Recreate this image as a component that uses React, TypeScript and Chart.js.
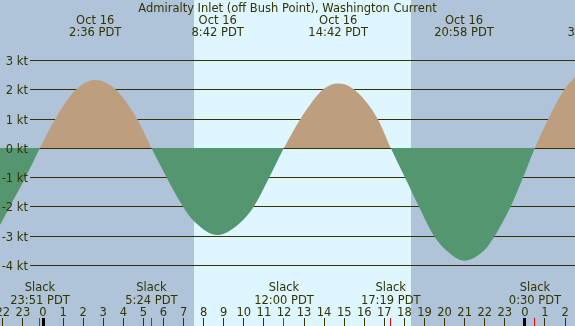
import React, { useEffect, useRef } from "react";
import { Chart, registerables } from "chart.js";

Chart.register(...registerables);

const TITLE = "Admiralty Inlet (off Bush Point), Washington Current";

// Current speed (kt), time in hours from Oct 16 00:00 PDT
const times = [
  -2.14, -1.65, -0.87, -0.15, 0.62, 1.66, 2.6, 3.6, 4.68, 5.4, 6.15, 6.97, 7.52,
  8.7, 9.9, 10.5, 11.27, 12.0, 12.83, 13.96, 14.7, 15.48, 16.66, 17.317, 18.02,
  18.72, 19.47, 20.05, 20.967, 22.0, 22.5, 23.29, 23.91, 24.5, 25.17, 25.97,
  26.5,
];
const speeds = [
  -2.63, -2.0, -1.0, 0, 1.0, 2.0, 2.32, 2.0, 1.0, 0, -1.0, -2.0, -2.5, -2.97,
  -2.5, -2.0, -1.0, 0, 1.0, 2.0, 2.2, 2.0, 1.0, 0, -1.0, -2.0, -3.0, -3.48,
  -3.85, -3.48, -3.0, -2.0, -1.0, 0, 1.0, 2.0, 2.43,
];

// Max / min current events
const extremeTimes = [2.6, 8.7, 14.7, 20.9667, 27.4167];
const extremeDates = ["Oct 16", "Oct 16", "Oct 16", "Oct 16", "Oct 17"];
const extremeLabels = ["2:36 PDT", "8:42 PDT", "14:42 PDT", "20:58 PDT", "3:25 PDT"];

// Slack water events
const slackTimes = [-0.15, 5.4, 12.0, 17.3167, 24.5];
const slackLabels = ["23:51 PDT", "5:24 PDT", "12:00 PDT", "17:19 PDT", "0:30 PDT"];

// Sunrise / sunset
const sunTimes = [7.5167, 18.3333];

// Axis ticks
const yTicks = [3, 2, 1, 0, -1, -2, -3, -4];
const hourTicks = [
  -2, -1, 0, 1, 2, 3, 4, 5, 6, 7, 8, 9, 10, 11, 12, 13, 14, 15, 16, 17, 18, 19,
  20, 21, 22, 23, 24, 25, 26,
];
const hourLabels = hourTicks.map((h) => String(((h % 24) + 24) % 24));

const NIGHT = "#afc3d9";
const DAY = "#def6ff";
const FLOOD = "#bd9e7e";
const EBB = "#53966f";
const INK = "#333300";
const FONT = '11.5px "DejaVu Sans"';

const decor = {
  id: "decor",
  beforeDraw(chart: any) {
    const { ctx, scales } = chart;
    const x = scales.x;
    ctx.save();
    ctx.fillStyle = NIGHT;
    ctx.fillRect(0, 0, chart.width, chart.height);
    const x0 = Math.round(x.getPixelForValue(sunTimes[0]));
    const x1 = Math.round(x.getPixelForValue(sunTimes[1]));
    ctx.fillStyle = DAY;
    ctx.fillRect(x0, 0, x1 - x0, chart.height);
    ctx.restore();
  },
  beforeDatasetsDraw(chart: any) {
    const { ctx, scales, chartArea } = chart;
    const y = scales.y;
    ctx.save();
    ctx.fillStyle = INK;
    yTicks.forEach((v) => {
      const py = Math.round(y.getPixelForValue(v));
      ctx.fillRect(30, py, chartArea.right - 30, 1);
    });
    ctx.restore();
  },
  afterDatasetsDraw(chart: any) {
    const { ctx, scales } = chart;
    const x = scales.x;
    const y = scales.y;
    const H = chart.height;
    ctx.save();
    ctx.font = FONT;
    ctx.fillStyle = INK;
    ctx.textBaseline = "alphabetic";

    // title
    ctx.textAlign = "center";
    ctx.fillText(TITLE, chart.width / 2, 12);

    // extremes
    extremeTimes.forEach((t, i) => {
      const px = x.getPixelForValue(t);
      ctx.fillText(extremeDates[i], px, 24);
      ctx.fillText(extremeLabels[i], px, 36);
    });

    // slack
    slackTimes.forEach((t, i) => {
      const px = x.getPixelForValue(t);
      ctx.fillText("Slack", px, 291);
      ctx.fillText(slackLabels[i], px, 304);
    });

    // hour labels
    hourTicks.forEach((h, i) => {
      const px = x.getPixelForValue(h);
      ctx.fillText(hourLabels[i], px, 316);
    });

    // y labels
    ctx.textAlign = "right";
    yTicks.forEach((v) => {
      const py = y.getPixelForValue(v);
      ctx.fillText(`${v} kt`, 28, Math.round(py) + 4.5);
    });

    // hour ticks
    hourTicks.forEach((h) => {
      const px = Math.floor(x.getPixelForValue(h));
      if (((h % 24) + 24) % 24 === 0) {
        ctx.fillStyle = "#000000";
        ctx.fillRect(px - 1, 318, 3, H - 318);
      } else {
        ctx.fillStyle = INK;
        ctx.fillRect(px, 318, 1, H - 318);
      }
    });
    // slack ticks
    ctx.fillStyle = "#ff0000";
    slackTimes.forEach((t) => {
      const px = Math.floor(x.getPixelForValue(t));
      ctx.fillRect(px, 318, 1, H - 318);
    });
    ctx.restore();
  },
};

export default function App() {
  const ref = useRef<HTMLCanvasElement | null>(null);

  useEffect(() => {
    if (!ref.current) return;
    const chart = new Chart(ref.current, {
      type: "line",
      data: {
        datasets: [
          {
            data: times.map((t, i) => ({ x: t, y: speeds[i] })),
            borderColor: "rgba(0,0,0,0)",
            borderWidth: 0,
            pointRadius: 0,
            cubicInterpolationMode: "monotone",
            fill: { target: "origin", above: FLOOD, below: EBB },
          } as any,
        ],
      },
      options: {
        responsive: false,
        animation: false,
        events: [],
        layout: { padding: 0 },
        plugins: {
          legend: { display: false },
          tooltip: { enabled: false },
          title: { display: false },
        },
        scales: {
          x: { type: "linear", min: -43 / 20.08, max: 532 / 20.08, display: false },
          y: { type: "linear", min: -6.08, max: 5.05, display: false },
        },
      },
      plugins: [decor],
    });
    return () => chart.destroy();
  }, []);

  return (
    <div style={{ position: "fixed", left: 0, top: 0, width: 575, height: 326 }}>
      <canvas ref={ref} width={575} height={326} style={{ display: "block" }} />
    </div>
  );
}
